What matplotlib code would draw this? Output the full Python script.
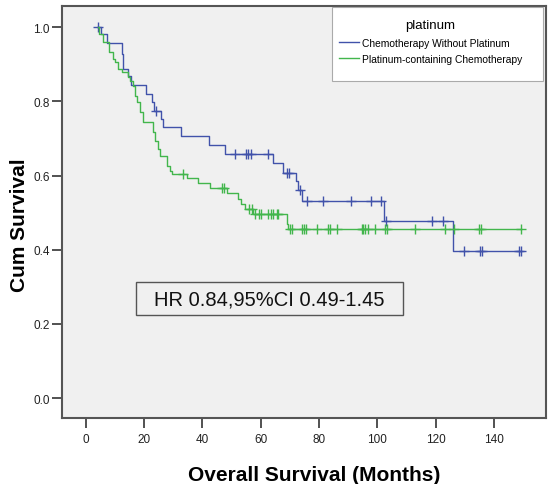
import numpy as np
import matplotlib.pyplot as plt
from matplotlib.patches import Rectangle

plt.rcParams['font.family'] = ['Liberation Sans', 'DejaVu Sans']

# Kaplan-Meier steps (months, cumulative survival)
blue_times = [4.2, 5.0, 7.1, 12.3, 12.8, 14.5, 15.3, 20.7, 22.6, 23.5, 25.6, 26.5,
              32.7, 42.2, 47.7, 64.3, 67.7, 72.0, 72.9, 74.0, 102.4, 126.0]
blue_surv = [1.0, 0.981, 0.956, 0.927, 0.887, 0.869, 0.844, 0.819, 0.797, 0.774, 0.752, 0.730,
             0.707, 0.681, 0.658, 0.634, 0.606, 0.584, 0.560, 0.532, 0.478, 0.397]
blue_censored = [4.2, 24.0, 51.1, 55.1, 55.7, 56.5, 62.6, 68.9, 69.8, 73.4, 75.9, 81.4,
                 90.9, 97.8, 101.2, 102.9, 118.6, 122.4, 129.8, 135.2, 136.0, 148.7, 149.2]

green_times = [4.2, 4.6, 5.7, 8.0, 9.4, 10.0, 11.1, 12.3, 14.5, 15.1, 16.2, 16.8, 17.6,
               18.5, 19.7, 22.9, 23.7, 24.8, 25.4, 27.7, 28.8, 29.4, 34.6, 38.3, 42.6,
               48.3, 52.3, 53.1, 54.6, 57.4, 68.9, 69.5]
green_surv = [1.0, 0.981, 0.959, 0.932, 0.914, 0.905, 0.887, 0.878, 0.865, 0.855, 0.842, 0.815,
              0.797, 0.770, 0.743, 0.716, 0.694, 0.671, 0.653, 0.626, 0.613, 0.604, 0.592,
              0.579, 0.566, 0.552, 0.538, 0.524, 0.510, 0.496, 0.470, 0.456]
green_censored = [33.4, 46.6, 47.4, 56.1, 56.9, 58.0, 59.5, 60.2, 62.6, 63.4, 64.3, 65.5,
                  66.0, 70.0, 70.6, 74.0, 74.8, 75.5, 79.2, 83.2, 83.7, 86.0, 94.6, 95.2,
                  95.7, 96.9, 99.2, 102.6, 103.2, 112.9, 123.2, 126.3, 135.0, 135.6, 149.2]

group_names = ['Chemotherapy Without Platinum', 'Platinum-containing Chemotherapy']
blue = '#4152aa'
green = '#42b64c'


def draw_km(ax, times, surv, censored, color, label):
    times = np.array(times)
    surv = np.array(surv)
    end = max(censored[-1], times[-1])
    ax.step(np.append(times, end), np.append(surv, surv[-1]), where='post',
            color=color, lw=1.0, label=label)
    # censored cases sit on the current step level
    idx = np.searchsorted(times, censored, side='right') - 1
    ax.plot(censored, surv[idx], linestyle='none', marker='+', markersize=7,
            mew=1.0, color=color)


fig = plt.figure(figsize=(5.54, 4.85), dpi=100)
ax = fig.add_axes([0.112, 0.136, 0.8736, 0.8495])
ax.set_facecolor('#f0f0f0')

draw_km(ax, blue_times, blue_surv, blue_censored, blue, group_names[0])
draw_km(ax, green_times, green_surv, green_censored, green, group_names[1])

ax.set_xlim(-8.2, 157.9)
ax.set_ylim(-0.054, 1.057)
ax.set_xticks(np.arange(0, 141, 20))
ax.set_yticks(np.arange(0, 1.01, 0.2))
ax.set_yticklabels([f'{v:.1f}' for v in np.arange(0, 1.01, 0.2)])
ax.tick_params(direction='out', length=7, width=1.2, color='#333333',
               labelsize=8.5, labelcolor='#222222', pad=2)
ax.tick_params(axis='x', pad=4)

for side in ax.spines.values():
    side.set_color('#555555')
    side.set_linewidth(1.5)

ax.set_xlabel('Overall Survival (Months)', fontsize=15, fontweight='bold')
ax.xaxis.set_label_coords(0.52, -0.115)
ax.set_ylabel('Cum Survival', fontsize=15, fontweight='bold')
ax.yaxis.set_label_coords(-0.068, 0.47)

# legend box (white, top right)
ax.add_patch(Rectangle((0.558, 0.818), 0.436, 0.18, transform=ax.transAxes,
                       facecolor='white', edgecolor='#aaaaaa', lw=0.8, zorder=4))
leg = ax.legend(loc='upper left', bbox_to_anchor=(0.553, 0.99), frameon=False,
                title='platinum', fontsize=7.4, title_fontsize=9.5,
                handlelength=2.0, handletextpad=0.2, labelspacing=0.6)
leg.set_zorder(5)

# hazard ratio box
ax.add_patch(Rectangle((0.153, 0.25), 0.552, 0.08, transform=ax.transAxes,
                       facecolor='#f0f0f0', edgecolor='#555555', lw=1, zorder=4))
ax.text(0.429, 0.29, 'HR 0.84,95%CI 0.49-1.45', transform=ax.transAxes,
        fontsize=14.5, ha='center', va='center', color='#111111', zorder=5)

fig.savefig('out.png', dpi=100)
